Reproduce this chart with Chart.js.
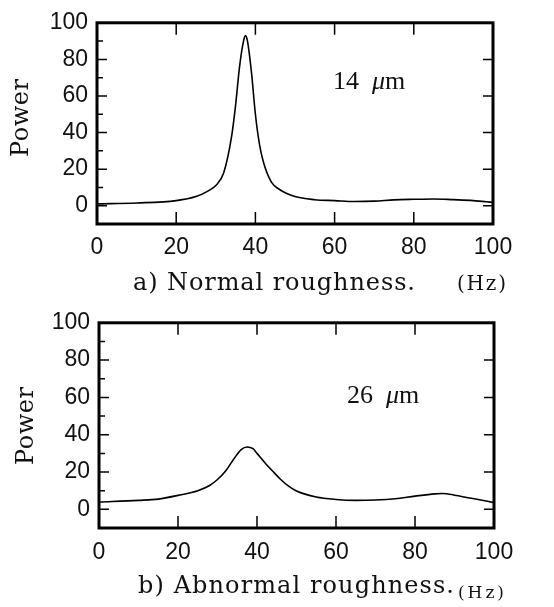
<!DOCTYPE html>
<html>
<head>
<meta charset="utf-8">
<script src="https://cdn.jsdelivr.net/npm/chart.js@4.4.0/dist/chart.umd.min.js"></script>
<style>
  html, body { margin: 0; padding: 0; background: #fff; }
  #wrap { position: relative; width: 554px; height: 607px; }
  .box { position: absolute; left: 0; width: 554px; }
</style>
</head>
<body>
<div id="wrap">
  <div class="box" style="top:0;height:300px"><canvas id="chartA" width="554" height="300"></canvas></div>
  <div class="box" style="top:300px;height:307px"><canvas id="chartB" width="554" height="307"></canvas></div>
</div>
<script>
// a) normal roughness, 14 um
const freqA = [0, 10, 20, 25, 28, 30, 32, 34, 35, 36, 37, 37.5, 38, 39, 40, 41, 42, 44, 46, 50, 55, 60, 65, 70, 75, 80, 85, 90, 95, 100]
const powerA = [1, 1.5, 2.8, 5, 8, 11, 18, 38, 55, 76, 90, 93, 90, 73, 50, 34, 24, 13, 9, 5, 3.3, 2.8, 2.3, 2.5, 3.2, 3.5, 3.7, 3.3, 2.8, 1.8]

// b) abnormal roughness, 26 um
const freqB = [0, 10, 15, 20, 25, 28, 30, 32, 34, 36, 37.5, 39, 40, 42, 44, 46, 48, 50, 55, 60, 65, 70, 75, 80, 85, 87, 90, 95, 100]
const powerB = [3.9, 4.8, 5.5, 7.5, 10, 12.8, 16, 20.4, 26.6, 32, 33.4, 32.5, 30, 25, 20.4, 16, 12.4, 9.8, 6.6, 5.3, 4.8, 5, 5.7, 7.1, 8.3, 8.5, 7.6, 5.7, 3.6]

const xTicks = [0, 20, 40, 60, 80, 100]
const yTicks = [0, 20, 40, 60, 80, 100]
const yMinor = [10, 30, 50, 70, 90]

// box frame + inward tick marks
const framePlugin = {
  id: 'frame',
  afterDatasetsDraw(chart) {
    const { ctx, chartArea: a, scales: { x, y } } = chart
    ctx.save()
    ctx.strokeStyle = '#000'
    ctx.lineWidth = 1.5
    ctx.beginPath()
    x.ticks.forEach(t => {
      if (t.value <= x.min || t.value >= x.max) return
      const px = x.getPixelForValue(t.value)
      ctx.moveTo(px, a.bottom); ctx.lineTo(px, a.bottom - 12)
      ctx.moveTo(px, a.top); ctx.lineTo(px, a.top + 12)
    })
    y.ticks.forEach(t => {
      const py = y.getPixelForValue(t.value)
      ctx.moveTo(a.left, py); ctx.lineTo(a.left + 10, py)
      ctx.moveTo(a.right, py); ctx.lineTo(a.right - 10, py)
    })
    yMinor.forEach(v => {
      const py = y.getPixelForValue(v)
      ctx.moveTo(a.left, py); ctx.lineTo(a.left + 6, py)
    })
    ctx.stroke()
    ctx.lineWidth = 3
    ctx.strokeRect(a.left, a.top, a.width, a.height)
    ctx.restore()
  }
}

// draw text spread to a given width (old typeset look)
function spreadText(ctx, text, x, y, width) {
  ctx.letterSpacing = '0px'
  const w = ctx.measureText(text).width
  const gap = Math.max(0, (width - w) / (text.length - 1))
  ctx.letterSpacing = gap + 'px'
  ctx.fillText(text, x, y)
  ctx.letterSpacing = '0px'
}

// captions and labels
const notesPlugin = {
  id: 'notes',
  afterDraw(chart, args, o) {
    const ctx = chart.ctx
    ctx.save()
    ctx.fillStyle = '#111'
    ctx.textBaseline = 'alphabetic'
    ctx.textAlign = 'left'

    // y title
    ctx.save()
    ctx.translate(o.powerX, o.powerY + 39)
    ctx.rotate(-Math.PI / 2)
    ctx.font = '24px "DejaVu Serif"'
    spreadText(ctx, 'Power', 0, 0, 78)
    ctx.restore()

    ctx.font = '24px "DejaVu Serif"'
    spreadText(ctx, o.caption, o.capX, o.capY, o.capW)
    ctx.font = o.hzSize + 'px "DejaVu Serif"'
    spreadText(ctx, '(Hz)', o.hzX, o.hzY, o.hzW)

    // "14 μm" style label
    let lx = o.labX
    ctx.font = '26px "Liberation Serif"'
    ctx.fillText(o.label + '  ', lx, o.labY)
    lx += ctx.measureText(o.label + '  ').width
    ctx.font = 'italic 26px "Liberation Serif"'
    ctx.fillText('\u03bc', lx, o.labY)
    lx += ctx.measureText('\u03bc').width
    ctx.font = '26px "Liberation Serif"'
    ctx.fillText('m', lx, o.labY)
    ctx.restore()
  }
}

function makeChart(id, freq, power, box, notes) {
  const points = freq.map((f, i) => ({ x: f, y: power[i] }))
  return new Chart(document.getElementById(id), {
    type: 'line',
    data: {
      datasets: [{
        data: points,
        borderColor: '#000',
        borderWidth: 1.6,
        pointRadius: 0,
        fill: false,
        cubicInterpolationMode: 'monotone',
      }],
    },
    options: {
      responsive: false,
      animation: false,
      layout: { padding: { left: 0, top: box.top, right: box.right, bottom: 0 } },
      scales: {
        x: {
          type: 'linear',
          min: 0,
          max: 100,
          afterBuildTicks: s => { s.ticks = xTicks.map(v => ({ value: v })) },
          afterFit: s => { s.height = box.xHeight },
          grid: { display: false, drawTicks: false },
          border: { display: false },
          ticks: { color: '#111', padding: box.xPad, font: { family: 'Liberation Sans', size: 23 } },
        },
        y: {
          min: -10,
          max: 100,
          afterBuildTicks: s => { s.ticks = yTicks.map(v => ({ value: v })) },
          afterFit: s => { s.width = box.left },
          grid: { display: false, drawTicks: false },
          border: { display: false },
          ticks: { color: '#111', padding: 9, font: { family: 'Liberation Sans', size: 23 } },
        },
      },
      plugins: {
        legend: { display: false },
        tooltip: { enabled: false },
        notes,
      },
    },
    plugins: [framePlugin, notesPlugin],
  })
}

makeChart('chartA', freqA, powerA,
  { left: 97, top: 16, right: 61, xHeight: 76, xPad: 10 },
  { powerX: 28, powerY: 118, caption: 'a) Normal roughness.', capX: 133, capY: 290, capW: 282,
    hzX: 457, hzY: 290, hzSize: 20, hzW: 49, label: '14', labX: 333, labY: 89 })

makeChart('chartB', freqB, powerB,
  { left: 99, top: 20, right: 60, xHeight: 79, xPad: 11 },
  { powerX: 33, powerY: 126, caption: 'b) Abnormal roughness.', capX: 138, capY: 293, capW: 316,
    hzX: 458, hzY: 298, hzSize: 17, hzW: 46, label: '26', labX: 347, labY: 103 })
</script>
</body>
</html>
